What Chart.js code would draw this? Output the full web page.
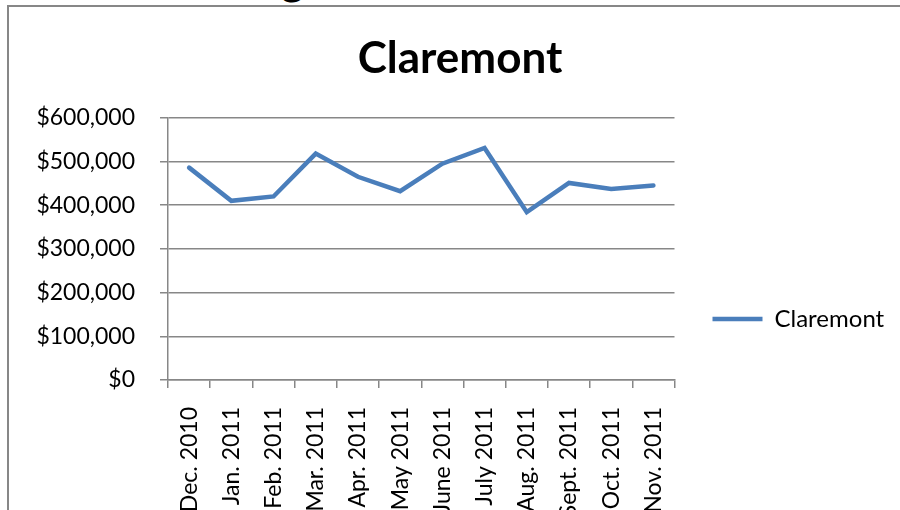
<!DOCTYPE html>
<html>
<head>
<meta charset="utf-8">
<script src="https://cdn.jsdelivr.net/npm/chart.js@4.4.1/dist/chart.umd.min.js"></script>
<style>
  html, body { margin: 0; padding: 0; background: #fff; overflow: hidden; width: 900px; height: 510px; }
  #frame { position: absolute; left: 7px; top: 5px; width: 930px; height: 640px; border-left: 2px solid #878787; border-top: 2px solid #878787; }
  #cut { position: absolute; left: 281px; top: -44px; font: bold 44px Lato, sans-serif; line-height: 44px; color: #000; }
  #chart { position: absolute; left: 0; top: 0; }
</style>
</head>
<body>
<div id="cut">g</div>
<div id="frame"><canvas id="chart" width="902" height="624"></canvas></div>
<script>
  "use strict";

  const months = ["Dec. 2010", "Jan. 2011", "Feb. 2011", "Mar. 2011", "Apr. 2011", "May 2011",
    "June 2011", "July 2011", "Aug. 2011", "Sept. 2011", "Oct. 2011", "Nov. 2011"];
  const claremont = [486000, 410000, 420000, 518000, 465000, 432000, 495000, 531000, 384000, 451000, 437000, 445000];
  const yTickLabels = ["$0", "$100,000", "$200,000", "$300,000", "$400,000", "$500,000", "$600,000"];

  const gray = "#878787";
  const blue = "#4a7ebb";
  Chart.defaults.font.family = "Lato, sans-serif";
  Chart.defaults.color = "#000";

  new Chart(document.getElementById("chart"), {
    type: "line",
    data: {
      labels: months,
      datasets: [{
        label: "Claremont",
        data: claremont,
        borderColor: blue,
        backgroundColor: blue,
        borderWidth: 4.5,
        borderCapStyle: "round",
        borderJoinStyle: "miter",
        pointRadius: 0,
        tension: 0
      }]
    },
    options: {
      responsive: false,
      animation: false,
      // equal side padding keeps the title centred where the original has it
      layout: { padding: { left: 22, right: 22, top: 0, bottom: 0 } },
      plugins: {
        title: {
          display: true,
          text: "Claremont",
          color: "#000",
          font: { size: 44, weight: "bold" },
          padding: { top: 25, bottom: 33 }
        },
        legend: {
          position: "right",
          labels: {
            usePointStyle: true,
            pointStyle: "line",
            pointStyleWidth: 50,
            padding: 38,
            color: "#000",
            font: { size: 24 }
          }
        },
        tooltip: { enabled: false }
      },
      scales: {
        x: {
          offset: true,
          grid: { offset: true, drawOnChartArea: false, drawTicks: true, tickLength: 8, color: gray, lineWidth: 1.5 },
          border: { color: gray, width: 1.5 },
          ticks: { minRotation: 90, maxRotation: 90, padding: 19, autoSkip: false, font: { size: 23 }, color: "#000" },
          afterFit: scale => { scale.height = 251; }
        },
        y: {
          min: 0,
          max: 600000,
          grid: { color: gray, lineWidth: 1.5, tickLength: 8 },
          border: { color: gray, width: 1.5 },
          ticks: {
            stepSize: 100000,
            padding: 25,
            font: { size: 23 },
            color: "#000",
            callback: (value, index) => yTickLabels[index]
          },
          afterFit: scale => { scale.width = 137; }
        }
      }
    }
  });
</script>
</body>
</html>
